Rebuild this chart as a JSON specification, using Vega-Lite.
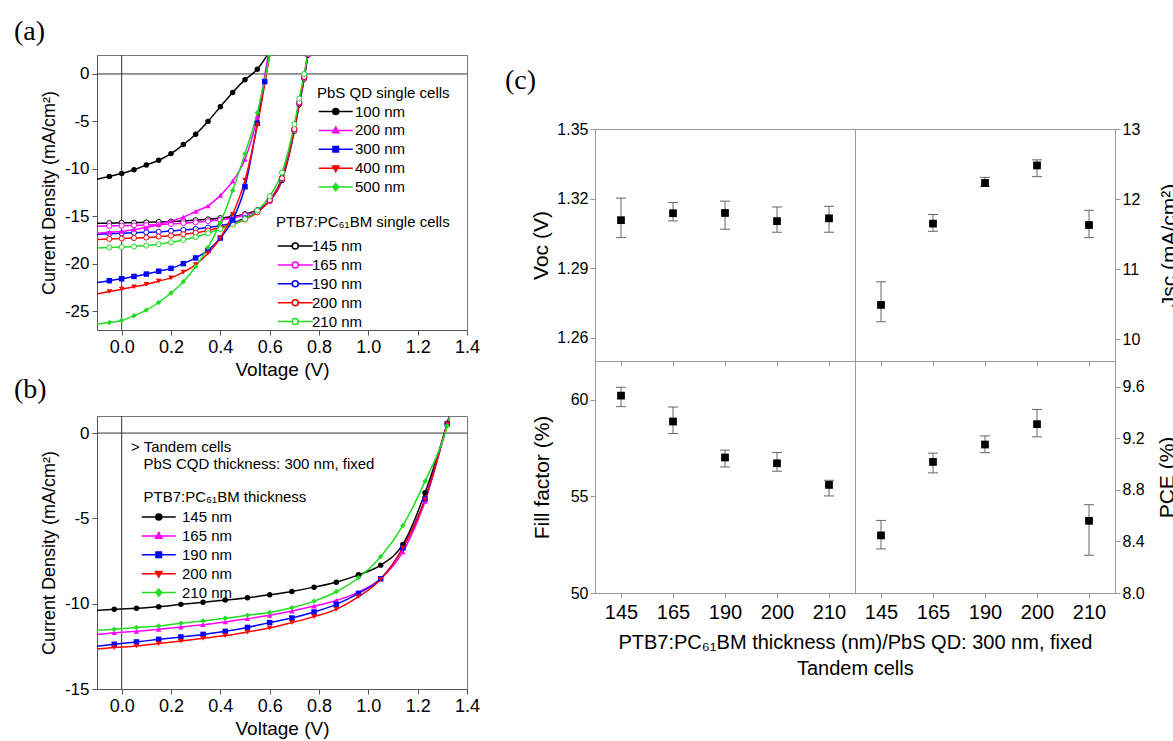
{
"$schema": "https://vega.github.io/schema/vega-lite/v6.json",
"background": "white",
"padding": {"left": 13, "top": 17, "right": 0, "bottom": 0},
"config": {
  "font": "Liberation Sans",
  "view": {"stroke": "#777"},
  "axis": {"grid": false, "labelColor": "#000", "titleColor": "#000", "titleFontWeight": "normal", "domainColor": "#555", "tickColor": "#555", "tickSize": 5, "labelFont": "Liberation Sans", "titleFont": "Liberation Sans", "labelFlush": false, "labelOverlap": false},
  "legend": {"labelFont": "Liberation Sans", "titleFont": "Liberation Sans", "titleFontWeight": "normal", "labelColor": "#000", "titleColor": "#000", "padding": 0, "labelFontSize": 15, "titleFontSize": 15, "symbolSize": 100, "symbolStrokeWidth": 1.5, "rowPadding": 2.9, "titlePadding": 5, "titleLimit": 400},
  "title": {"font": "Liberation Serif", "fontSize": 28, "fontWeight": "normal", "color": "#000", "anchor": "start", "frame": "group"}
},
"datasets": {
  "a": [
    {"g":"PbS","cell":"100 nm","V":-0.1,"J":-11.1},{"g":"PbS","cell":"100 nm","V":-0.05,"J":-10.8},{"g":"PbS","cell":"100 nm","V":0,"J":-10.5},{"g":"PbS","cell":"100 nm","V":0.05,"J":-10.1},{"g":"PbS","cell":"100 nm","V":0.1,"J":-9.6},{"g":"PbS","cell":"100 nm","V":0.15,"J":-9.1},{"g":"PbS","cell":"100 nm","V":0.2,"J":-8.4},{"g":"PbS","cell":"100 nm","V":0.25,"J":-7.45},{"g":"PbS","cell":"100 nm","V":0.3,"J":-6.35},{"g":"PbS","cell":"100 nm","V":0.35,"J":-5.0},{"g":"PbS","cell":"100 nm","V":0.4,"J":-3.45},{"g":"PbS","cell":"100 nm","V":0.45,"J":-1.95},{"g":"PbS","cell":"100 nm","V":0.5,"J":-0.6},{"g":"PbS","cell":"100 nm","V":0.55,"J":0.5},{"g":"PbS","cell":"100 nm","V":0.6,"J":2.4},
    {"g":"PbS","cell":"200 nm","V":-0.1,"J":-16.8},{"g":"PbS","cell":"200 nm","V":-0.05,"J":-16.7},{"g":"PbS","cell":"200 nm","V":0,"J":-16.6},{"g":"PbS","cell":"200 nm","V":0.05,"J":-16.4},{"g":"PbS","cell":"200 nm","V":0.1,"J":-16.2},{"g":"PbS","cell":"200 nm","V":0.15,"J":-15.9},{"g":"PbS","cell":"200 nm","V":0.2,"J":-15.5},{"g":"PbS","cell":"200 nm","V":0.25,"J":-15.1},{"g":"PbS","cell":"200 nm","V":0.3,"J":-14.5},{"g":"PbS","cell":"200 nm","V":0.35,"J":-13.9},{"g":"PbS","cell":"200 nm","V":0.4,"J":-12.8},{"g":"PbS","cell":"200 nm","V":0.45,"J":-11.3},{"g":"PbS","cell":"200 nm","V":0.5,"J":-9.0},{"g":"PbS","cell":"200 nm","V":0.55,"J":-4.5},{"g":"PbS","cell":"200 nm","V":0.595,"J":2.2},
    {"g":"PbS","cell":"300 nm","V":-0.1,"J":-22.0},{"g":"PbS","cell":"300 nm","V":-0.05,"J":-21.8},{"g":"PbS","cell":"300 nm","V":0,"J":-21.6},{"g":"PbS","cell":"300 nm","V":0.05,"J":-21.35},{"g":"PbS","cell":"300 nm","V":0.1,"J":-21.1},{"g":"PbS","cell":"300 nm","V":0.15,"J":-20.8},{"g":"PbS","cell":"300 nm","V":0.2,"J":-20.5},{"g":"PbS","cell":"300 nm","V":0.25,"J":-20.0},{"g":"PbS","cell":"300 nm","V":0.3,"J":-19.4},{"g":"PbS","cell":"300 nm","V":0.35,"J":-18.6},{"g":"PbS","cell":"300 nm","V":0.4,"J":-17.3},{"g":"PbS","cell":"300 nm","V":0.45,"J":-15.4},{"g":"PbS","cell":"300 nm","V":0.5,"J":-11.9},{"g":"PbS","cell":"300 nm","V":0.55,"J":-5.2},{"g":"PbS","cell":"300 nm","V":0.58,"J":-0.8},{"g":"PbS","cell":"300 nm","V":0.6,"J":2.2},
    {"g":"PbS","cell":"400 nm","V":-0.1,"J":-23.2},{"g":"PbS","cell":"400 nm","V":-0.05,"J":-22.95},{"g":"PbS","cell":"400 nm","V":0,"J":-22.7},{"g":"PbS","cell":"400 nm","V":0.05,"J":-22.45},{"g":"PbS","cell":"400 nm","V":0.1,"J":-22.2},{"g":"PbS","cell":"400 nm","V":0.15,"J":-21.85},{"g":"PbS","cell":"400 nm","V":0.2,"J":-21.5},{"g":"PbS","cell":"400 nm","V":0.25,"J":-20.9},{"g":"PbS","cell":"400 nm","V":0.3,"J":-20.1},{"g":"PbS","cell":"400 nm","V":0.35,"J":-18.9},{"g":"PbS","cell":"400 nm","V":0.4,"J":-17.3},{"g":"PbS","cell":"400 nm","V":0.45,"J":-14.8},{"g":"PbS","cell":"400 nm","V":0.5,"J":-11.2},{"g":"PbS","cell":"400 nm","V":0.55,"J":-5.4},{"g":"PbS","cell":"400 nm","V":0.6,"J":2.0},
    {"g":"PbS","cell":"500 nm","V":-0.1,"J":-26.4},{"g":"PbS","cell":"500 nm","V":-0.05,"J":-26.2},{"g":"PbS","cell":"500 nm","V":0,"J":-26.0},{"g":"PbS","cell":"500 nm","V":0.05,"J":-25.5},{"g":"PbS","cell":"500 nm","V":0.1,"J":-24.9},{"g":"PbS","cell":"500 nm","V":0.15,"J":-24.1},{"g":"PbS","cell":"500 nm","V":0.2,"J":-23.1},{"g":"PbS","cell":"500 nm","V":0.25,"J":-21.9},{"g":"PbS","cell":"500 nm","V":0.3,"J":-20.3},{"g":"PbS","cell":"500 nm","V":0.35,"J":-18.3},{"g":"PbS","cell":"500 nm","V":0.4,"J":-15.7},{"g":"PbS","cell":"500 nm","V":0.45,"J":-12.3},{"g":"PbS","cell":"500 nm","V":0.5,"J":-8.4},{"g":"PbS","cell":"500 nm","V":0.55,"J":-4.1},{"g":"PbS","cell":"500 nm","V":0.6,"J":2.0},
    {"g":"PTB7","cell":"145 nm","V":-0.1,"J":-15.75},{"g":"PTB7","cell":"145 nm","V":-0.05,"J":-15.73},{"g":"PTB7","cell":"145 nm","V":0,"J":-15.7},{"g":"PTB7","cell":"145 nm","V":0.05,"J":-15.68},{"g":"PTB7","cell":"145 nm","V":0.1,"J":-15.65},{"g":"PTB7","cell":"145 nm","V":0.15,"J":-15.61},{"g":"PTB7","cell":"145 nm","V":0.2,"J":-15.56},{"g":"PTB7","cell":"145 nm","V":0.25,"J":-15.5},{"g":"PTB7","cell":"145 nm","V":0.3,"J":-15.42},{"g":"PTB7","cell":"145 nm","V":0.35,"J":-15.33},{"g":"PTB7","cell":"145 nm","V":0.4,"J":-15.2},{"g":"PTB7","cell":"145 nm","V":0.45,"J":-15.03},{"g":"PTB7","cell":"145 nm","V":0.5,"J":-14.78},{"g":"PTB7","cell":"145 nm","V":0.55,"J":-14.35},{"g":"PTB7","cell":"145 nm","V":0.6,"J":-13.4},{"g":"PTB7","cell":"145 nm","V":0.65,"J":-11.2},{"g":"PTB7","cell":"145 nm","V":0.7,"J":-6.0},{"g":"PTB7","cell":"145 nm","V":0.72,"J":-3.2},{"g":"PTB7","cell":"145 nm","V":0.74,"J":-0.5},{"g":"PTB7","cell":"145 nm","V":0.755,"J":2.0},
    {"g":"PTB7","cell":"165 nm","V":-0.1,"J":-16.05},{"g":"PTB7","cell":"165 nm","V":-0.05,"J":-16.02},{"g":"PTB7","cell":"165 nm","V":0,"J":-16.0},{"g":"PTB7","cell":"165 nm","V":0.05,"J":-15.97},{"g":"PTB7","cell":"165 nm","V":0.1,"J":-15.93},{"g":"PTB7","cell":"165 nm","V":0.15,"J":-15.88},{"g":"PTB7","cell":"165 nm","V":0.2,"J":-15.82},{"g":"PTB7","cell":"165 nm","V":0.25,"J":-15.74},{"g":"PTB7","cell":"165 nm","V":0.3,"J":-15.64},{"g":"PTB7","cell":"165 nm","V":0.35,"J":-15.52},{"g":"PTB7","cell":"165 nm","V":0.4,"J":-15.38},{"g":"PTB7","cell":"165 nm","V":0.45,"J":-15.18},{"g":"PTB7","cell":"165 nm","V":0.5,"J":-14.88},{"g":"PTB7","cell":"165 nm","V":0.55,"J":-14.4},{"g":"PTB7","cell":"165 nm","V":0.6,"J":-13.4},{"g":"PTB7","cell":"165 nm","V":0.65,"J":-11.1},{"g":"PTB7","cell":"165 nm","V":0.7,"J":-5.9},{"g":"PTB7","cell":"165 nm","V":0.72,"J":-3.1},{"g":"PTB7","cell":"165 nm","V":0.74,"J":-0.4},{"g":"PTB7","cell":"165 nm","V":0.755,"J":2.1},
    {"g":"PTB7","cell":"190 nm","V":-0.1,"J":-16.9},{"g":"PTB7","cell":"190 nm","V":-0.05,"J":-16.85},{"g":"PTB7","cell":"190 nm","V":0,"J":-16.8},{"g":"PTB7","cell":"190 nm","V":0.05,"J":-16.75},{"g":"PTB7","cell":"190 nm","V":0.1,"J":-16.7},{"g":"PTB7","cell":"190 nm","V":0.15,"J":-16.65},{"g":"PTB7","cell":"190 nm","V":0.2,"J":-16.55},{"g":"PTB7","cell":"190 nm","V":0.25,"J":-16.45},{"g":"PTB7","cell":"190 nm","V":0.3,"J":-16.35},{"g":"PTB7","cell":"190 nm","V":0.35,"J":-16.2},{"g":"PTB7","cell":"190 nm","V":0.4,"J":-16.0},{"g":"PTB7","cell":"190 nm","V":0.45,"J":-15.7},{"g":"PTB7","cell":"190 nm","V":0.5,"J":-15.2},{"g":"PTB7","cell":"190 nm","V":0.55,"J":-14.5},{"g":"PTB7","cell":"190 nm","V":0.6,"J":-13.3},{"g":"PTB7","cell":"190 nm","V":0.65,"J":-11.0},{"g":"PTB7","cell":"190 nm","V":0.7,"J":-5.8},{"g":"PTB7","cell":"190 nm","V":0.72,"J":-3.0},{"g":"PTB7","cell":"190 nm","V":0.74,"J":-0.3},{"g":"PTB7","cell":"190 nm","V":0.755,"J":2.2},
    {"g":"PTB7","cell":"200 nm","V":-0.1,"J":-17.45},{"g":"PTB7","cell":"200 nm","V":-0.05,"J":-17.4},{"g":"PTB7","cell":"200 nm","V":0,"J":-17.35},{"g":"PTB7","cell":"200 nm","V":0.05,"J":-17.3},{"g":"PTB7","cell":"200 nm","V":0.1,"J":-17.25},{"g":"PTB7","cell":"200 nm","V":0.15,"J":-17.15},{"g":"PTB7","cell":"200 nm","V":0.2,"J":-17.05},{"g":"PTB7","cell":"200 nm","V":0.25,"J":-16.9},{"g":"PTB7","cell":"200 nm","V":0.3,"J":-16.75},{"g":"PTB7","cell":"200 nm","V":0.35,"J":-16.5},{"g":"PTB7","cell":"200 nm","V":0.4,"J":-16.2},{"g":"PTB7","cell":"200 nm","V":0.45,"J":-15.85},{"g":"PTB7","cell":"200 nm","V":0.5,"J":-15.35},{"g":"PTB7","cell":"200 nm","V":0.55,"J":-14.6},{"g":"PTB7","cell":"200 nm","V":0.6,"J":-13.3},{"g":"PTB7","cell":"200 nm","V":0.65,"J":-11.0},{"g":"PTB7","cell":"200 nm","V":0.7,"J":-5.8},{"g":"PTB7","cell":"200 nm","V":0.72,"J":-3.0},{"g":"PTB7","cell":"200 nm","V":0.74,"J":-0.3},{"g":"PTB7","cell":"200 nm","V":0.755,"J":2.2},
    {"g":"PTB7","cell":"210 nm","V":-0.1,"J":-18.35},{"g":"PTB7","cell":"210 nm","V":-0.05,"J":-18.3},{"g":"PTB7","cell":"210 nm","V":0,"J":-18.25},{"g":"PTB7","cell":"210 nm","V":0.05,"J":-18.2},{"g":"PTB7","cell":"210 nm","V":0.1,"J":-18.1},{"g":"PTB7","cell":"210 nm","V":0.15,"J":-17.95},{"g":"PTB7","cell":"210 nm","V":0.2,"J":-17.75},{"g":"PTB7","cell":"210 nm","V":0.25,"J":-17.5},{"g":"PTB7","cell":"210 nm","V":0.3,"J":-17.2},{"g":"PTB7","cell":"210 nm","V":0.35,"J":-16.8},{"g":"PTB7","cell":"210 nm","V":0.4,"J":-16.35},{"g":"PTB7","cell":"210 nm","V":0.45,"J":-15.85},{"g":"PTB7","cell":"210 nm","V":0.5,"J":-15.3},{"g":"PTB7","cell":"210 nm","V":0.55,"J":-14.4},{"g":"PTB7","cell":"210 nm","V":0.6,"J":-12.9},{"g":"PTB7","cell":"210 nm","V":0.65,"J":-10.4},{"g":"PTB7","cell":"210 nm","V":0.7,"J":-5.3},{"g":"PTB7","cell":"210 nm","V":0.72,"J":-2.6},{"g":"PTB7","cell":"210 nm","V":0.74,"J":0.0},{"g":"PTB7","cell":"210 nm","V":0.755,"J":2.2}
  ],
  "b": [
    {"cell":"145 nm","V":-0.1,"J":-10.4},{"cell":"145 nm","V":-0.03,"J":-10.33},{"cell":"145 nm","V":0.06,"J":-10.27},{"cell":"145 nm","V":0.15,"J":-10.18},{"cell":"145 nm","V":0.24,"J":-10.04},{"cell":"145 nm","V":0.33,"J":-9.92},{"cell":"145 nm","V":0.42,"J":-9.79},{"cell":"145 nm","V":0.51,"J":-9.65},{"cell":"145 nm","V":0.6,"J":-9.48},{"cell":"145 nm","V":0.69,"J":-9.28},{"cell":"145 nm","V":0.78,"J":-9.03},{"cell":"145 nm","V":0.87,"J":-8.74},{"cell":"145 nm","V":0.96,"J":-8.31},{"cell":"145 nm","V":1.05,"J":-7.74},{"cell":"145 nm","V":1.14,"J":-6.53},{"cell":"145 nm","V":1.23,"J":-3.5},{"cell":"145 nm","V":1.32,"J":0.58},{"cell":"145 nm","V":1.34,"J":1.6},
    {"cell":"165 nm","V":-0.1,"J":-11.8},{"cell":"165 nm","V":-0.03,"J":-11.7},{"cell":"165 nm","V":0.06,"J":-11.62},{"cell":"165 nm","V":0.15,"J":-11.5},{"cell":"165 nm","V":0.24,"J":-11.37},{"cell":"165 nm","V":0.33,"J":-11.23},{"cell":"165 nm","V":0.42,"J":-11.07},{"cell":"165 nm","V":0.51,"J":-10.88},{"cell":"165 nm","V":0.6,"J":-10.68},{"cell":"165 nm","V":0.69,"J":-10.43},{"cell":"165 nm","V":0.78,"J":-10.14},{"cell":"165 nm","V":0.87,"J":-9.81},{"cell":"165 nm","V":0.96,"J":-9.32},{"cell":"165 nm","V":1.05,"J":-8.54},{"cell":"165 nm","V":1.14,"J":-6.96},{"cell":"165 nm","V":1.23,"J":-4.0},{"cell":"165 nm","V":1.32,"J":0.49},{"cell":"165 nm","V":1.34,"J":1.5},
    {"cell":"190 nm","V":-0.1,"J":-12.5},{"cell":"190 nm","V":-0.03,"J":-12.38},{"cell":"190 nm","V":0.06,"J":-12.24},{"cell":"190 nm","V":0.15,"J":-12.09},{"cell":"190 nm","V":0.24,"J":-11.95},{"cell":"190 nm","V":0.33,"J":-11.8},{"cell":"190 nm","V":0.42,"J":-11.62},{"cell":"190 nm","V":0.51,"J":-11.39},{"cell":"190 nm","V":0.6,"J":-11.11},{"cell":"190 nm","V":0.69,"J":-10.84},{"cell":"190 nm","V":0.78,"J":-10.49},{"cell":"190 nm","V":0.87,"J":-10.04},{"cell":"190 nm","V":0.96,"J":-9.4},{"cell":"190 nm","V":1.05,"J":-8.54},{"cell":"190 nm","V":1.14,"J":-6.73},{"cell":"190 nm","V":1.23,"J":-3.86},{"cell":"190 nm","V":1.32,"J":0.54},{"cell":"190 nm","V":1.34,"J":1.5},
    {"cell":"200 nm","V":-0.1,"J":-12.65},{"cell":"200 nm","V":-0.03,"J":-12.57},{"cell":"200 nm","V":0.06,"J":-12.48},{"cell":"200 nm","V":0.15,"J":-12.34},{"cell":"200 nm","V":0.24,"J":-12.19},{"cell":"200 nm","V":0.33,"J":-12.03},{"cell":"200 nm","V":0.42,"J":-11.87},{"cell":"200 nm","V":0.51,"J":-11.66},{"cell":"200 nm","V":0.6,"J":-11.43},{"cell":"200 nm","V":0.69,"J":-11.11},{"cell":"200 nm","V":0.78,"J":-10.76},{"cell":"200 nm","V":0.87,"J":-10.33},{"cell":"200 nm","V":0.96,"J":-9.59},{"cell":"200 nm","V":1.05,"J":-8.58},{"cell":"200 nm","V":1.14,"J":-6.73},{"cell":"200 nm","V":1.23,"J":-3.9},{"cell":"200 nm","V":1.32,"J":0.54},{"cell":"200 nm","V":1.34,"J":1.5},
    {"cell":"210 nm","V":-0.1,"J":-11.55},{"cell":"210 nm","V":-0.03,"J":-11.5},{"cell":"210 nm","V":0.06,"J":-11.4},{"cell":"210 nm","V":0.15,"J":-11.31},{"cell":"210 nm","V":0.24,"J":-11.15},{"cell":"210 nm","V":0.33,"J":-11.02},{"cell":"210 nm","V":0.42,"J":-10.86},{"cell":"210 nm","V":0.51,"J":-10.68},{"cell":"210 nm","V":0.6,"J":-10.51},{"cell":"210 nm","V":0.69,"J":-10.24},{"cell":"210 nm","V":0.78,"J":-9.85},{"cell":"210 nm","V":0.87,"J":-9.3},{"cell":"210 nm","V":0.96,"J":-8.48},{"cell":"210 nm","V":1.05,"J":-7.25},{"cell":"210 nm","V":1.14,"J":-5.42},{"cell":"210 nm","V":1.23,"J":-2.83},{"cell":"210 nm","V":1.32,"J":0.43},{"cell":"210 nm","V":1.34,"J":1.6}
  ],
  "c": [
    {"p":"Voc","t":"145","v":1.3107,"lo":1.3032,"hi":1.3202},{"p":"Voc","t":"165","v":1.3137,"lo":1.3104,"hi":1.3183},{"p":"Voc","t":"190","v":1.3138,"lo":1.3068,"hi":1.3189},{"p":"Voc","t":"200","v":1.3103,"lo":1.3055,"hi":1.3164},{"p":"Voc","t":"210","v":1.3115,"lo":1.3055,"hi":1.3167},
    {"p":"Jsc","t":"145","v":10.49,"lo":10.25,"hi":10.82},{"p":"Jsc","t":"165","v":11.65,"lo":11.54,"hi":11.78},{"p":"Jsc","t":"190","v":12.23,"lo":12.18,"hi":12.31},{"p":"Jsc","t":"200","v":12.48,"lo":12.32,"hi":12.56},{"p":"Jsc","t":"210","v":11.63,"lo":11.45,"hi":11.84},
    {"p":"FF","t":"145","v":60.21,"lo":59.64,"hi":60.64},{"p":"FF","t":"165","v":58.87,"lo":58.25,"hi":59.62},{"p":"FF","t":"190","v":57.01,"lo":56.52,"hi":57.39},{"p":"FF","t":"200","v":56.71,"lo":56.3,"hi":57.27},{"p":"FF","t":"210","v":55.59,"lo":55.02,"hi":55.83},
    {"p":"PCE","t":"145","v":8.447,"lo":8.342,"hi":8.563},{"p":"PCE","t":"165","v":9.017,"lo":8.932,"hi":9.085},{"p":"PCE","t":"190","v":9.152,"lo":9.089,"hi":9.219},{"p":"PCE","t":"200","v":9.31,"lo":9.212,"hi":9.424},{"p":"PCE","t":"210","v":8.56,"lo":8.293,"hi":8.685}
  ]
},
"columns": 2,
"align": "none",
"spacing": 24,
"concat": [
  {
    "spacing": -5,
    "vconcat": [
      {
        "width": 370, "height": 275,
        "title": {"text": "(a)", "dx": -83, "offset": 9},
        "layer": [
          {"data": {"values": [{}]}, "mark": {"type": "rule", "color": "#333", "strokeWidth": 1}, "encoding": {"x": {"datum": 0, "type": "quantitative"}}},
          {"data": {"values": [{}]}, "mark": {"type": "rule", "color": "#333", "strokeWidth": 1}, "encoding": {"y": {"datum": 0, "type": "quantitative"}}},
          {"data": {"name": "a"}, "transform": [{"filter": "datum.g == 'PTB7'"}], "mark": {"type": "line", "strokeWidth": 1.5, "clip": true, "interpolate": "monotone"},
           "encoding": {
             "x": {"field": "V", "type": "quantitative", "title": "Voltage (V)", "scale": {"domain": [-0.1, 1.4], "nice": false, "zero": false}, "axis": {"values": [0, 0.2, 0.4, 0.6, 0.8, 1, 1.2, 1.4], "format": ".1f", "labelFontSize": 18, "titleFontSize": 19, "labelPadding": 3, "titlePadding": 4}},
             "y": {"field": "J", "type": "quantitative", "title": "Current Density (mA/cm²)", "scale": {"domain": [-27, 2], "nice": false, "zero": false}, "axis": {"values": [0, -5, -10, -15, -20, -25], "labelExpr": "toString(datum.value)", "labelFontSize": 17, "titleFontSize": 18, "labelPadding": 3, "titlePadding": 6}},
             "stroke": {"field": "cell", "type": "nominal", "scale": {"domain": ["145 nm", "165 nm", "190 nm", "200 nm", "210 nm"], "range": ["#000000", "#ff00ff", "#0000ff", "#ff0000", "#22dd22"]}, "legend": null}}},
          {"data": {"name": "a"}, "transform": [{"filter": "datum.g == 'PTB7' && datum.V > -0.09"}], "mark": {"type": "point", "shape": "circle", "filled": true, "fill": "white", "strokeWidth": 1, "size": 26, "opacity": 1, "clip": true},
           "encoding": {
             "x": {"field": "V", "type": "quantitative", "title": "Voltage (V)"},
             "y": {"field": "J", "type": "quantitative", "title": "Current Density (mA/cm²)"},
             "stroke": {"field": "cell", "type": "nominal", "scale": {"domain": ["145 nm", "165 nm", "190 nm", "200 nm", "210 nm"], "range": ["#000000", "#ff00ff", "#0000ff", "#ff0000", "#22dd22"]}, "legend": null}}},
          {"data": {"name": "a"}, "transform": [{"filter": "datum.g == 'PbS'"}], "mark": {"type": "line", "strokeWidth": 1.5, "clip": true, "interpolate": "monotone"},
           "encoding": {
             "x": {"field": "V", "type": "quantitative", "title": "Voltage (V)"},
             "y": {"field": "J", "type": "quantitative", "title": "Current Density (mA/cm²)"},
             "stroke": {"field": "cell", "type": "nominal", "scale": {"domain": ["100 nm", "200 nm", "300 nm", "400 nm", "500 nm"], "range": ["#000000", "#ff00ff", "#0000ff", "#ff0000", "#22dd22"]}, "legend": null}}},
          {"data": {"name": "a"}, "transform": [{"filter": "datum.g == 'PbS' && datum.V > -0.09"}], "mark": {"type": "point", "filled": true, "size": 30, "opacity": 1, "clip": true},
           "encoding": {
             "x": {"field": "V", "type": "quantitative", "title": "Voltage (V)"},
             "y": {"field": "J", "type": "quantitative", "title": "Current Density (mA/cm²)"},
             "fill": {"field": "cell", "type": "nominal", "scale": {"domain": ["100 nm", "200 nm", "300 nm", "400 nm", "500 nm"], "range": ["#000000", "#ff00ff", "#0000ff", "#ff0000", "#22dd22"]}, "legend": null},
             "shape": {"field": "cell", "type": "nominal", "scale": {"domain": ["100 nm", "200 nm", "300 nm", "400 nm", "500 nm"], "range": ["circle", "triangle-up", "square", "triangle-down", "diamond"]}, "legend": null}}},
          {"data": {"name": "a"}, "transform": [{"filter": "false"}], "mark": {"type": "point", "filled": true, "size": 100, "opacity": 1},
           "encoding": {
             "x": {"field": "V", "type": "quantitative", "title": "Voltage (V)"},
             "y": {"field": "J", "type": "quantitative", "title": "Current Density (mA/cm²)"},
             "fill": {"field": "cell", "type": "nominal", "scale": {"domain": ["100 nm", "200 nm", "300 nm", "400 nm", "500 nm"], "range": ["#000000", "#ff00ff", "#0000ff", "#ff0000", "#22dd22"]}, "legend": {"title": "PbS QD single cells", "orient": "none", "legendX": 220, "legendY": 31, "labelOffset": 23, "titlePadding": 3}},
             "stroke": {"field": "cell", "type": "nominal", "scale": {"domain": ["100 nm", "200 nm", "300 nm", "400 nm", "500 nm"], "range": ["#000000", "#ff00ff", "#0000ff", "#ff0000", "#22dd22"]}, "legend": {"title": "PbS QD single cells", "orient": "none", "legendX": 220, "legendY": 31, "labelOffset": 23, "titlePadding": 3}},
             "shape": {"field": "cell", "type": "nominal", "scale": {"domain": ["100 nm", "200 nm", "300 nm", "400 nm", "500 nm"], "range": ["M-1.15,0L5.65,0M2.85,0A0.6,0.6 0 1 1 1.65,0A0.6,0.6 0 1 1 2.85,0", "M-1.15,0L5.65,0M2.25,-0.7L2.9,0.45L1.6,0.45Z", "M-1.15,0L5.65,0M1.7,-0.55L2.8,-0.55L2.8,0.55L1.7,0.55Z", "M-1.15,0L5.65,0M2.25,0.7L2.9,-0.45L1.6,-0.45Z", "M-1.15,0L5.65,0M2.25,-0.75L2.85,0L2.25,0.75L1.65,0Z"]}, "legend": {"title": "PbS QD single cells", "orient": "none", "legendX": 220, "legendY": 31, "labelOffset": 23, "titlePadding": 3}}}},
          {"data": {"name": "a"}, "transform": [{"filter": "false"}], "mark": {"type": "point", "filled": true, "fill": "white", "size": 100, "opacity": 1},
           "encoding": {
             "x": {"field": "V", "type": "quantitative", "title": "Voltage (V)"},
             "y": {"field": "J", "type": "quantitative", "title": "Current Density (mA/cm²)"},
             "stroke": {"field": "cell", "type": "nominal", "scale": {"domain": ["145 nm", "165 nm", "190 nm", "200 nm", "210 nm"], "range": ["#000000", "#ff00ff", "#0000ff", "#ff0000", "#22dd22"]}, "legend": {"title": "PTB7:PC₆₁BM single cells", "orient": "none", "legendX": 179, "legendY": 160, "labelOffset": 21, "titlePadding": 8.5, "symbolType": "M-1.15,0L1.75,0M2.95,0L5.85,0M2.95,0A0.6,0.6 0 1 1 1.75,0A0.6,0.6 0 1 1 2.95,0", "symbolFillColor": "white"}}}}
        ],
        "resolve": {"scale": {"stroke": "independent", "fill": "independent", "shape": "independent"}}
      },
      {
        "width": 370, "height": 273,
        "title": {"text": "(b)", "dx": -83, "offset": 12},
        "layer": [
          {"data": {"values": [{}]}, "mark": {"type": "rule", "color": "#333", "strokeWidth": 1}, "encoding": {"x": {"datum": 0, "type": "quantitative"}}},
          {"data": {"values": [{}]}, "mark": {"type": "rule", "color": "#333", "strokeWidth": 1}, "encoding": {"y": {"datum": 0, "type": "quantitative"}}},
          {"data": {"name": "b"}, "mark": {"type": "line", "strokeWidth": 1.5, "clip": true, "interpolate": "monotone"},
           "encoding": {
             "x": {"field": "V", "type": "quantitative", "title": "Voltage (V)", "scale": {"domain": [-0.1, 1.4], "nice": false, "zero": false}, "axis": {"values": [0, 0.2, 0.4, 0.6, 0.8, 1, 1.2, 1.4], "format": ".1f", "labelFontSize": 18, "titleFontSize": 19, "labelPadding": 3, "titlePadding": 4}},
             "y": {"field": "J", "type": "quantitative", "title": "Current Density (mA/cm²)", "scale": {"domain": [-15, 1], "nice": false, "zero": false}, "axis": {"values": [0, -5, -10, -15], "labelExpr": "toString(datum.value)", "labelFontSize": 17, "titleFontSize": 18, "labelPadding": 3, "titlePadding": 6}},
             "stroke": {"field": "cell", "type": "nominal", "scale": {"domain": ["145 nm", "165 nm", "190 nm", "200 nm", "210 nm"], "range": ["#000000", "#ff00ff", "#0000ff", "#ff0000", "#22dd22"]}, "legend": null}}},
          {"data": {"name": "b"}, "transform": [{"filter": "datum.V > -0.09 && datum.V < 1.335"}], "mark": {"type": "point", "filled": true, "size": 30, "opacity": 1, "clip": true},
           "encoding": {
             "x": {"field": "V", "type": "quantitative", "title": "Voltage (V)"},
             "y": {"field": "J", "type": "quantitative", "title": "Current Density (mA/cm²)"},
             "fill": {"field": "cell", "type": "nominal", "scale": {"domain": ["145 nm", "165 nm", "190 nm", "200 nm", "210 nm"], "range": ["#000000", "#ff00ff", "#0000ff", "#ff0000", "#22dd22"]}, "legend": null},
             "shape": {"field": "cell", "type": "nominal", "scale": {"domain": ["145 nm", "165 nm", "190 nm", "200 nm", "210 nm"], "range": ["circle", "triangle-up", "square", "triangle-down", "diamond"]}, "legend": null}}},
          {"data": {"name": "b"}, "transform": [{"filter": "false"}], "mark": {"type": "point", "filled": true, "size": 100, "opacity": 1},
           "encoding": {
             "x": {"field": "V", "type": "quantitative", "title": "Voltage (V)"},
             "y": {"field": "J", "type": "quantitative", "title": "Current Density (mA/cm²)"},
             "fill": {"field": "cell", "type": "nominal", "scale": {"domain": ["145 nm", "165 nm", "190 nm", "200 nm", "210 nm"], "range": ["#000000", "#ff00ff", "#0000ff", "#ff0000", "#22dd22"]}, "legend": {"title": ["> Tandem cells", "\u200b\u00a0\u00a0\u00a0PbS CQD thickness: 300 nm, fixed", "\u200b", "\u200b\u00a0\u00a0\u00a0PTB7:PC₆₁BM thickness"], "titleLineHeight": 16.5, "orient": "none", "legendX": 34, "legendY": 24, "labelOffset": 36}},
             "stroke": {"field": "cell", "type": "nominal", "scale": {"domain": ["145 nm", "165 nm", "190 nm", "200 nm", "210 nm"], "range": ["#000000", "#ff00ff", "#0000ff", "#ff0000", "#22dd22"]}, "legend": {"title": ["> Tandem cells", "\u200b\u00a0\u00a0\u00a0PbS CQD thickness: 300 nm, fixed", "\u200b", "\u200b\u00a0\u00a0\u00a0PTB7:PC₆₁BM thickness"], "titleLineHeight": 16.5, "orient": "none", "legendX": 34, "legendY": 24, "labelOffset": 36}},
             "shape": {"field": "cell", "type": "nominal", "scale": {"domain": ["145 nm", "165 nm", "190 nm", "200 nm", "210 nm"], "range": ["M0.65,0L7.45,0M4.65,0A0.6,0.6 0 1 1 3.45,0A0.6,0.6 0 1 1 4.65,0", "M0.65,0L7.45,0M4.05,-0.7L4.7,0.45L3.4,0.45Z", "M0.65,0L7.45,0M3.5,-0.55L4.6,-0.55L4.6,0.55L3.5,0.55Z", "M0.65,0L7.45,0M4.05,0.7L4.7,-0.45L3.4,-0.45Z", "M0.65,0L7.45,0M4.05,-0.75L4.65,0L4.05,0.75L3.45,0Z"]}, "legend": {"title": ["> Tandem cells", "\u200b\u00a0\u00a0\u00a0PbS CQD thickness: 300 nm, fixed", "\u200b", "\u200b\u00a0\u00a0\u00a0PTB7:PC₆₁BM thickness"], "titleLineHeight": 16.5, "orient": "none", "legendX": 34, "legendY": 24, "labelOffset": 36}}}}
        ],
        "resolve": {"scale": {"stroke": "independent", "fill": "independent", "shape": "independent"}}
      }
    ]
  },
  {
    "spacing": 25,
    "vconcat": [
      {
        "width": 10, "height": 4, "view": {"stroke": null},
        "title": {"text": "(c)", "orient": "bottom", "dx": -90, "offset": 8},
        "data": {"values": [{}]},
        "mark": {"type": "rule", "opacity": 0},
        "encoding": {}
      },
      {
        "columns": 2, "spacing": 0, "bounds": "flush",
        "title": {"text": ["PTB7:PC₆₁BM thickness (nm)/PbS QD: 300 nm, fixed", "Tandem cells"], "orient": "bottom", "anchor": "middle", "frame": "bounds", "font": "Liberation Sans", "fontSize": 20, "lineHeight": 26, "offset": 10},
        "concat": [
          {
            "width": 260, "height": 232, "view": {"stroke": "#999"},
            "data": {"name": "c"}, "transform": [{"filter": "datum.p == 'Voc'"}],
            "encoding": {"x": {"field": "t", "type": "ordinal", "title": null, "scale": {"type": "point", "padding": 0.5, "domain": ["145", "165", "190", "200", "210"]}, "axis": {"labels": false, "tickSize": 5, "domainColor": "#999", "tickColor": "#999"}}},
            "layer": [
              {"mark": {"type": "rule", "color": "#666"}, "encoding": {"y": {"field": "lo", "type": "quantitative", "title": "Voc (V)", "scale": {"domain": [1.25, 1.35], "nice": false, "zero": false}, "axis": {"values": [1.26, 1.29, 1.32, 1.35], "format": ".2f", "labelFontSize": 16, "titleFontSize": 21, "titlePadding": 5, "domainColor": "#999", "tickColor": "#999"}}, "y2": {"field": "hi"}}},
              {"mark": {"type": "tick", "color": "#666", "size": 10, "thickness": 1, "opacity": 1}, "encoding": {"y": {"field": "lo", "type": "quantitative", "title": "Voc (V)"}}},
              {"mark": {"type": "tick", "color": "#666", "size": 10, "thickness": 1, "opacity": 1}, "encoding": {"y": {"field": "hi", "type": "quantitative", "title": "Voc (V)"}}},
              {"mark": {"type": "point", "shape": "square", "filled": true, "color": "#000", "size": 60, "opacity": 1}, "encoding": {"y": {"field": "v", "type": "quantitative", "title": "Voc (V)"}}}
            ]
          },
          {
            "width": 260, "height": 232, "view": {"stroke": "#999"},
            "data": {"name": "c"}, "transform": [{"filter": "datum.p == 'Jsc'"}],
            "encoding": {"x": {"field": "t", "type": "ordinal", "title": null, "scale": {"type": "point", "padding": 0.5, "domain": ["145", "165", "190", "200", "210"]}, "axis": {"labels": false, "tickSize": 5, "domainColor": "#999", "tickColor": "#999"}}},
            "layer": [
              {"mark": {"type": "rule", "color": "#666"}, "encoding": {"y": {"field": "lo", "type": "quantitative", "title": "Jsc (mA/cm²)", "scale": {"domain": [9.69, 13], "nice": false, "zero": false}, "axis": {"orient": "right", "values": [10, 11, 12, 13], "format": "d", "labelFontSize": 16, "titleFontSize": 21, "titlePadding": 19, "titleAngle": 270, "titleBaseline": "top", "domainColor": "#999", "tickColor": "#999"}}, "y2": {"field": "hi"}}},
              {"mark": {"type": "tick", "color": "#666", "size": 10, "thickness": 1, "opacity": 1}, "encoding": {"y": {"field": "lo", "type": "quantitative", "title": "Jsc (mA/cm²)"}}},
              {"mark": {"type": "tick", "color": "#666", "size": 10, "thickness": 1, "opacity": 1}, "encoding": {"y": {"field": "hi", "type": "quantitative", "title": "Jsc (mA/cm²)"}}},
              {"mark": {"type": "point", "shape": "square", "filled": true, "color": "#000", "size": 60, "opacity": 1}, "encoding": {"y": {"field": "v", "type": "quantitative", "title": "Jsc (mA/cm²)"}}}
            ]
          },
          {
            "width": 260, "height": 232, "view": {"stroke": "#999"},
            "data": {"name": "c"}, "transform": [{"filter": "datum.p == 'FF'"}],
            "encoding": {"x": {"field": "t", "type": "ordinal", "title": null, "scale": {"type": "point", "padding": 0.5, "domain": ["145", "165", "190", "200", "210"]}, "axis": {"labelFontSize": 20, "labelAngle": 0, "labelPadding": 4, "tickSize": 5, "domainColor": "#999", "tickColor": "#999"}}},
            "layer": [
              {"mark": {"type": "rule", "color": "#666"}, "encoding": {"y": {"field": "lo", "type": "quantitative", "title": "Fill factor (%)", "scale": {"domain": [50, 62], "nice": false, "zero": false}, "axis": {"values": [50, 55, 60], "format": "d", "labelFontSize": 16, "titleFontSize": 21, "titlePadding": 18, "domainColor": "#999", "tickColor": "#999"}}, "y2": {"field": "hi"}}},
              {"mark": {"type": "tick", "color": "#666", "size": 10, "thickness": 1, "opacity": 1}, "encoding": {"y": {"field": "lo", "type": "quantitative", "title": "Fill factor (%)"}}},
              {"mark": {"type": "tick", "color": "#666", "size": 10, "thickness": 1, "opacity": 1}, "encoding": {"y": {"field": "hi", "type": "quantitative", "title": "Fill factor (%)"}}},
              {"mark": {"type": "point", "shape": "square", "filled": true, "color": "#000", "size": 60, "opacity": 1}, "encoding": {"y": {"field": "v", "type": "quantitative", "title": "Fill factor (%)"}}}
            ]
          },
          {
            "width": 260, "height": 232, "view": {"stroke": "#999"},
            "data": {"name": "c"}, "transform": [{"filter": "datum.p == 'PCE'"}],
            "encoding": {"x": {"field": "t", "type": "ordinal", "title": null, "scale": {"type": "point", "padding": 0.5, "domain": ["145", "165", "190", "200", "210"]}, "axis": {"labelFontSize": 20, "labelAngle": 0, "labelPadding": 4, "tickSize": 5, "domainColor": "#999", "tickColor": "#999"}}},
            "layer": [
              {"mark": {"type": "rule", "color": "#666"}, "encoding": {"y": {"field": "lo", "type": "quantitative", "title": "PCE (%)", "scale": {"domain": [8.0, 9.8], "nice": false, "zero": false}, "axis": {"orient": "right", "values": [8.0, 8.4, 8.8, 9.2, 9.6], "format": ".1f", "labelFontSize": 16, "titleFontSize": 21, "titlePadding": 12, "titleAngle": 270, "titleBaseline": "top", "domainColor": "#999", "tickColor": "#999"}}, "y2": {"field": "hi"}}},
              {"mark": {"type": "tick", "color": "#666", "size": 10, "thickness": 1, "opacity": 1}, "encoding": {"y": {"field": "lo", "type": "quantitative", "title": "PCE (%)"}}},
              {"mark": {"type": "tick", "color": "#666", "size": 10, "thickness": 1, "opacity": 1}, "encoding": {"y": {"field": "hi", "type": "quantitative", "title": "PCE (%)"}}},
              {"mark": {"type": "point", "shape": "square", "filled": true, "color": "#000", "size": 60, "opacity": 1}, "encoding": {"y": {"field": "v", "type": "quantitative", "title": "PCE (%)"}}}
            ]
          }
        ]
      }
    ]
  }
]
}
